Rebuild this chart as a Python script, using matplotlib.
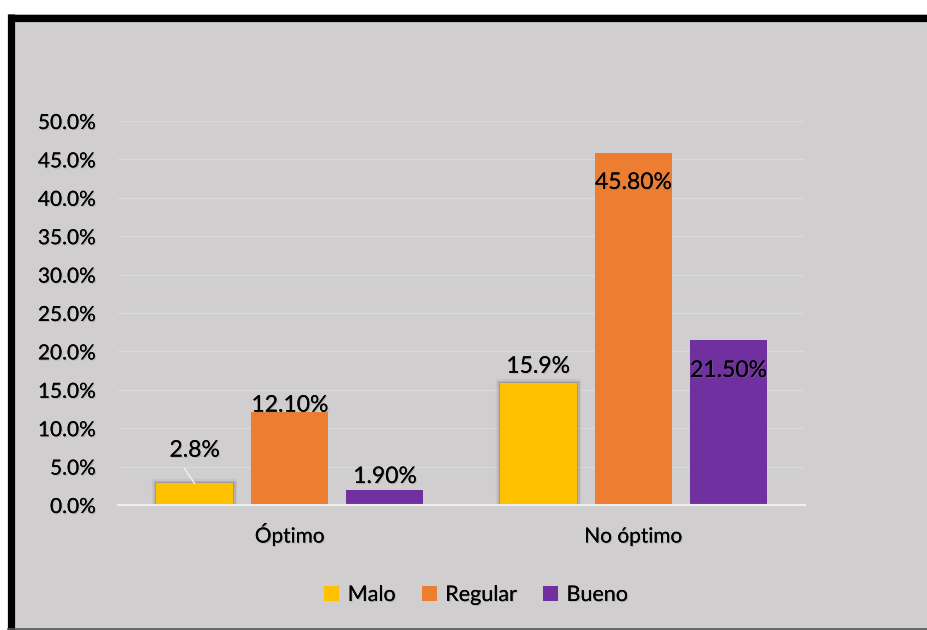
import matplotlib
matplotlib.use("Agg")
import matplotlib.pyplot as plt
import matplotlib.patheffects as pe
from matplotlib.patches import Rectangle, Patch
from matplotlib.lines import Line2D
import numpy as np

# Datos del gráfico
categorias = ["Óptimo", "No óptimo"]
series = ["Malo", "Regular", "Bueno"]
malo = [2.8, 15.9]
regular = [12.10, 45.80]
bueno = [1.90, 21.50]
formatos = ["{:.1f}%", "{:.2f}%", "{:.2f}%"]
colores = ["#FFC000", "#ED7D31", "#7030A0"]
y_ticks = np.arange(0, 50.1, 5)

# desplazamiento vertical de cada etiqueta (pt), por serie y categoría
desp_etiquetas = [[24, 12], [5, -21], [10, -22]]

fondo = "#D0CECE"
plt.rcParams["font.family"] = ["Lato", "DejaVu Sans"]
sombra = [pe.withSimplePatchShadow(offset=(0.8, -0.8), shadow_rgbFace="#808080", alpha=0.35), pe.Normal()]

fig = plt.figure(figsize=(9.28, 6.3), dpi=100, facecolor="white")

# marco: relleno gris con borde negro arriba e izquierda
W, H = 928, 630
fig.patches.append(Rectangle((8 / W, 0), 1, (H - 14) / H, transform=fig.transFigure,
                             facecolor=fondo, edgecolor="none", zorder=-2))
fig.add_artist(Line2D([11.5 / W, 11.5 / W], [0, (H - 14) / H], color="black", lw=5.2,
                      transform=fig.transFigure, solid_capstyle="butt", zorder=-1))
fig.add_artist(Line2D([8 / W, 1], [(H - 17.5) / H, (H - 17.5) / H], color="black", lw=5.2,
                      transform=fig.transFigure, solid_capstyle="butt", zorder=-1))
fig.add_artist(Line2D([8 / W, 1], [1.5 / H, 1.5 / H], color="#555555", lw=1.2,
                      transform=fig.transFigure, zorder=-1))

ax = fig.add_axes([118 / W, 125 / H, 687 / W, 384 / H])
ax.set_zorder(1)
ax.set_facecolor("none")

x = np.arange(len(categorias))
ancho = 0.224
paso = 0.277
valores = [malo, regular, bueno]
for i, (nombre, vals, col) in enumerate(zip(series, valores, colores)):
    pos = x + (i - 1) * paso
    barras = ax.bar(pos, vals, ancho, color=col, zorder=3)
    if i == 0:
        # sombra difusa alrededor de las barras "Malo"
        for b in barras:
            b.set_path_effects([pe.withStroke(linewidth=6, foreground="#7A7878", alpha=0.12),
                                pe.withStroke(linewidth=3.5, foreground="#7A7878", alpha=0.25),
                                pe.withStroke(linewidth=1.5, foreground="#7A7878", alpha=0.35),
                                pe.Normal()])
    for j, (p, v) in enumerate(zip(pos, vals)):
        ax.annotate(formatos[i].format(v), (p, v), xytext=(0, desp_etiquetas[i][j]),
                    textcoords="offset points", ha="center", va="center",
                    fontsize=16.5, color="black", zorder=5, path_effects=sombra)

# línea guía de la etiqueta 2.8%
ax.annotate("", xy=(x[0] - paso, malo[0]), xytext=(x[0] - paso - 0.03, malo[0] + 2.0),
            arrowprops=dict(arrowstyle="-", color="#F2F2F2", lw=1, shrinkA=0, shrinkB=0), zorder=4)

ax.set_xlim(-0.5, 1.5)
ax.set_ylim(0, 50)
ax.set_yticks(y_ticks)
ax.set_yticklabels([f"{t:.1f}%" for t in y_ticks])
ax.set_xticks(x)
ax.set_xticklabels(categorias, va="baseline")
ax.tick_params(axis="y", length=0, pad=16, labelsize=15)
ax.tick_params(axis="x", length=0, pad=27, labelsize=15)
for t in ax.get_yticklabels() + ax.get_xticklabels():
    t.set_path_effects(sombra)

ax.grid(axis="y", color="#D9D9D9", lw=1, zorder=0)
for s in ["top", "right", "left"]:
    ax.spines[s].set_visible(False)
ax.spines["bottom"].set_color("#EEEEEE")
ax.spines["bottom"].set_linewidth(1.5)
ax.spines["bottom"].set_zorder(4)

manejadores = [Patch(facecolor=c, label=n) for n, c in zip(series, colores)]
leg = fig.legend(handles=manejadores, loc="center", bbox_to_anchor=(476 / W, 1 - 595 / H),
                 ncol=3, frameon=False, fontsize=15.5, handlelength=0.7, handleheight=0.7,
                 handletextpad=0.4, columnspacing=1.2)
for t in leg.get_texts():
    t.set_path_effects(sombra)

fig.savefig("out.png", dpi=100, facecolor="white")
